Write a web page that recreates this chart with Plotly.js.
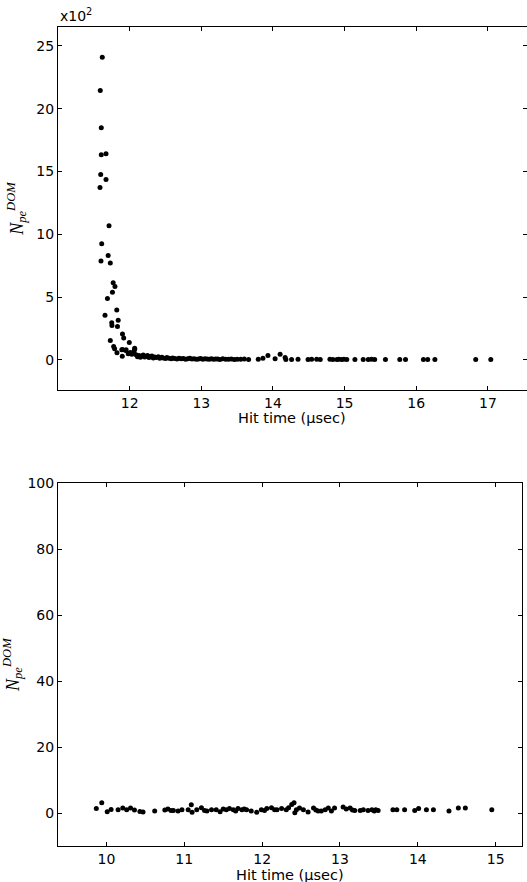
<!DOCTYPE html>
<html>
<head>
<meta charset="utf-8">
<script src="https://cdn.plot.ly/plotly-3.0.1.min.js"></script>
<style>html,body{margin:0;padding:0;background:#fff;}#chart{width:527px;height:882px;}</style>
</head>
<body>
<div id="chart"></div>
<script>
// Top panel: hit time (usec) and N_pe^DOM (counts)
const topTime = [
  11.618, 11.59, 11.604, 11.604, 11.67, 11.596, 11.67, 11.586,
  11.712, 11.61, 11.70, 11.60, 11.73, 11.77, 11.795, 11.76, 11.69, 11.82,
  11.656, 11.84, 11.75, 11.753, 11.83, 11.90, 11.917, 11.73, 11.995, 11.777,
  11.79, 11.89, 11.945, 12.07, 12.06, 11.823, 11.897, 11.98, 12.03, 12.01,
  11.95, 11.90, 12.07,
  12.09, 12.11, 12.13, 12.15, 12.17, 12.19, 12.21, 12.23, 12.25, 12.27,
  12.29, 12.31, 12.33, 12.35, 12.37, 12.40, 12.42, 12.45, 12.47, 12.50,
  12.52, 12.55, 12.58, 12.60, 12.63, 12.66, 12.69, 12.72, 12.75, 12.78,
  12.81, 12.84, 12.87, 12.90, 12.93, 12.96, 12.99, 13.02, 13.05, 13.08,
  13.11, 13.14, 13.17, 13.20, 13.23, 13.26, 13.30, 13.34, 13.38, 13.42,
  13.46, 13.50, 13.55, 13.60, 13.66,
  13.795, 13.86, 13.93, 14.03, 14.10, 14.17, 14.18, 14.26, 14.35, 14.49,
  14.54, 14.61, 14.66, 14.795, 14.837, 14.893, 14.92, 14.958, 14.99, 15.03,
  15.144, 15.26, 15.33, 15.377, 15.42, 15.57, 15.77, 15.85, 16.10, 16.16,
  16.26, 16.83, 17.04
];
const topNpe = [
  2410, 2145, 1847, 1632, 1640, 1475, 1435, 1372,
  1067, 924, 830, 788, 772, 613, 584, 539, 488, 396,
  356, 316, 295, 273, 265, 205, 173, 154, 138, 106,
  88, 80, 74, 93, 66, 56, 29, 48, 45, 58,
  80, 82, 85,
  40, 25, 35, 20, 30, 38, 22, 28, 34, 18,
  26, 30, 15, 22, 18, 25, 12, 20, 15, 10,
  18, 12, 8, 14, 10, 6, 12, 8, 10, 5,
  8, 12, 6, 9, 5, 7, 10, 4, 8, 6,
  5, 9, 4, 7, 6, 3, 8, 5, 4, 6,
  3, 5, 4, 6, 3,
  5, 12, 34, 8, 45, 18, 2, 3, 4, 3,
  5, 4, 3, 4, 2, 3, 5, 3, 4, 2,
  3, 2, 3, 4, 2, 3, 2, 3, 2, 3,
  2, 2, 3
];
const topYTicks = [0, 500, 1000, 1500, 2000, 2500];
const topYTickText = ['0', '5', '10', '15', '20', '25'];
const topXTicks = [12, 13, 14, 15, 16, 17];

// Bottom panel
const botTime = [
  9.87, 9.94, 10.01, 10.06, 10.15, 10.21, 10.26, 10.31, 10.36, 10.43,
  10.47, 10.62, 10.75, 10.79, 10.83, 10.86, 10.92, 10.97, 11.05, 11.09,
  11.10, 11.16, 11.22, 11.26, 11.29, 11.35, 11.41, 11.46, 11.50, 11.54,
  11.58, 11.63, 11.66, 11.69, 11.74, 11.77, 11.80, 11.86, 11.93, 11.99,
  12.03, 12.06, 12.12, 12.16, 12.19, 12.25, 12.31, 12.34, 12.38, 12.41,
  12.44, 12.42, 12.48, 12.53, 12.59, 12.66, 12.69, 12.72, 12.76, 12.81,
  12.85, 12.89, 12.93, 13.04, 13.08, 13.13, 13.16, 13.19, 13.26, 13.30,
  13.36, 13.41, 13.44, 13.46, 13.49, 13.68, 13.73, 13.83, 13.96, 14.01,
  14.11, 14.20, 14.40, 14.52, 14.61, 14.95
];
const botNpe = [
  1.4, 3.1, 0.4, 1.1, 1.0, 1.5, 1.0, 1.5, 0.9, 0.5,
  0.3, 0.6, 0.9, 1.2, 0.8, 0.8, 0.6, 1.0, 1.0, 2.5,
  0.2, 1.0, 1.6, 0.8, 0.6, 1.0, 1.0, 0.4, 1.2, 1.0,
  1.4, 1.0, 0.6, 1.4, 1.0, 1.2, 1.0, 0.6, 0.2, 1.0,
  0.8, 1.4, 1.6, 1.0, 1.0, 1.4, 1.0, 1.6, 2.6, 3.1,
  1.0, 0.1, 1.5, 1.0, 0.3, 1.5, 0.9, 0.6, 0.6, 1.0,
  1.5, 0.6, 1.5, 1.8, 1.2, 1.5, 0.9, 0.8, 0.8, 1.0,
  0.8, 1.0, 0.6, 1.0, 0.8, 1.0, 1.0, 1.0, 0.8, 1.4,
  1.0, 1.0, 0.6, 1.5, 1.5, 1.0
];
const botYTicks = [0, 20, 40, 60, 80, 100];
const botXTicks = [10, 11, 12, 13, 14, 15];
const xTitleText = 'Hit time (\u03bcsec)';

const W = 527, H = 882;
const font = {family: 'DejaVu Sans', size: 14, color: '#000'};
const xTitleFont = {family: 'DejaVu Sans', size: 14.5, color: '#000'};
const yTitleFont = {family: 'Liberation Serif', size: 18, color: '#000'};
const yTitle = '<i>N<sub>pe</sub><sup>DOM</sup></i>';

function axBase() {
  return {
    showgrid: false, zeroline: false, showline: true, mirror: 'allticks',
    linecolor: '#000', linewidth: 1, ticks: 'inside', ticklen: 4,
    tickwidth: 1, tickcolor: '#000', tickfont: font, automargin: false,
    tickmode: 'array'
  };
}

const marker = {color: '#000', size: 5, line: {width: 0}};

const traces = [
  {x: topTime, y: topNpe, type: 'scatter', mode: 'markers', marker: marker,
   xaxis: 'x', yaxis: 'y', hoverinfo: 'x+y'},
  {x: botTime, y: botNpe, type: 'scatter', mode: 'markers', marker: marker,
   xaxis: 'x2', yaxis: 'y2', hoverinfo: 'x+y'}
];

const L = 58;
const plotW = W - L;
const topDomX = [0, (526.6 - L) / plotW];
const botDomX = [0, (521.7 - L) / plotW];
const layout = {
  width: W, height: H,
  margin: {l: L, r: 0, t: 0, b: 0},
  paper_bgcolor: '#fff', plot_bgcolor: '#fff',
  showlegend: false, font: font,
  xaxis: Object.assign(axBase(), {
    domain: topDomX, range: [11.0, 17.54],
    tickvals: topXTicks, anchor: 'y'
  }),
  yaxis: Object.assign(axBase(), {
    domain: [1 - 390 / H, 1 - 27 / H], range: [-240, 2650],
    tickvals: topYTicks, ticktext: topYTickText, anchor: 'x',
    title: {text: yTitle, font: yTitleFont, standoff: 8}
  }),
  xaxis2: Object.assign(axBase(), {
    domain: botDomX, range: [9.378, 15.334],
    tickvals: botXTicks, anchor: 'y2'
  }),
  yaxis2: Object.assign(axBase(), {
    domain: [1 - 846 / H, 1 - 483.3 / H], range: [-10, 100],
    tickvals: botYTicks, anchor: 'x2',
    title: {text: yTitle, font: yTitleFont, standoff: 8}
  }),
  annotations: [
    {text: 'x10<sup>2</sup>', xref: 'paper', yref: 'paper', x: 0, y: 1 - 26 / H,
     xanchor: 'left', yanchor: 'bottom', showarrow: false, font: font},
    {text: xTitleText, xref: 'paper', yref: 'paper', x: topDomX[1] / 2,
     y: 1 - 409 / H, xanchor: 'center', yanchor: 'top', showarrow: false,
     font: xTitleFont, borderpad: 0},
    {text: xTitleText, xref: 'paper', yref: 'paper', x: botDomX[1] / 2,
     y: 1 - 865.5 / H, xanchor: 'center', yanchor: 'top', showarrow: false,
     font: xTitleFont, borderpad: 0}
  ]
};

Plotly.newPlot('chart', traces, layout, {staticPlot: true, displayModeBar: false});
</script>
</body>
</html>
